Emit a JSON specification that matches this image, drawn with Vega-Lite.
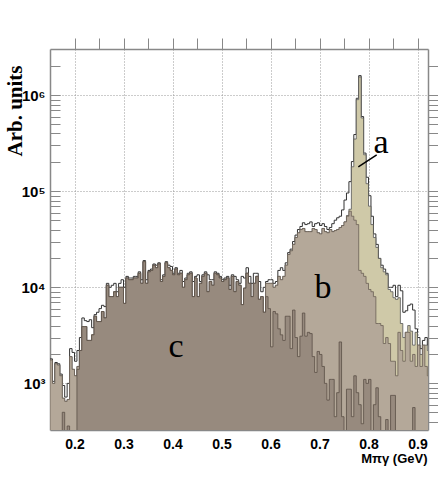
{
  "$schema": "https://vega.github.io/schema/vega-lite/v6.json",
  "width": 378,
  "height": 381,
  "autosize": {"type": "none"},
  "padding": {"left": 50, "top": 49, "right": 10, "bottom": 49},
  "background": "white",
  "config": {"view": {"stroke": null}},
  "datasets": {
    "hist": [
      {"x":0.150,"T":1800,"A":1750,"B":1750,"C":1},
      {"x":0.155,"T":1050,"A":1000,"B":1000,"C":1},
      {"x":0.160,"T":1650,"A":1600,"B":1600,"C":1},
      {"x":0.165,"T":1600,"A":1550,"B":1550,"C":1},
      {"x":0.170,"T":1250,"A":1200,"B":1200,"C":1},
      {"x":0.175,"T":950,"A":700,"B":700,"C":500},
      {"x":0.180,"T":720,"A":650,"B":650,"C":1},
      {"x":0.185,"T":1000,"A":680,"B":680,"C":360},
      {"x":0.190,"T":2300,"A":1900,"B":1900,"C":1},
      {"x":0.195,"T":2100,"A":1400,"B":1400,"C":1},
      {"x":0.200,"T":1700,"A":1200,"B":1200,"C":1},
      {"x":0.205,"T":2200,"A":1500,"B":1500,"C":1400},
      {"x":0.210,"T":3000,"A":2200,"B":2200,"C":2200},
      {"x":0.215,"T":4800,"A":3900,"B":3900,"C":3900},
      {"x":0.220,"T":4500,"A":3900,"B":3900,"C":3900},
      {"x":0.225,"T":4400,"A":2800,"B":2800,"C":2800},
      {"x":0.230,"T":4600,"A":2800,"B":2800,"C":2800},
      {"x":0.235,"T":3800,"A":3200,"B":3200,"C":3200},
      {"x":0.240,"T":5200,"A":5000,"B":5000,"C":5000},
      {"x":0.245,"T":5500,"A":4400,"B":4400,"C":4400},
      {"x":0.250,"T":6000,"A":4400,"B":4400,"C":4400},
      {"x":0.255,"T":6500,"A":5600,"B":5600,"C":5600},
      {"x":0.260,"T":6300,"A":4800,"B":4800,"C":4800},
      {"x":0.265,"T":11000,"A":10500,"B":10500,"C":10500},
      {"x":0.270,"T":10000,"A":8000,"B":8000,"C":8000},
      {"x":0.275,"T":10500,"A":8000,"B":8000,"C":8000},
      {"x":0.280,"T":11000,"A":9000,"B":9000,"C":9000},
      {"x":0.285,"T":9000,"A":8000,"B":8000,"C":8000},
      {"x":0.290,"T":11000,"A":10000,"B":10000,"C":10000},
      {"x":0.295,"T":12000,"A":10000,"B":10000,"C":10000},
      {"x":0.300,"T":10000,"A":6800,"B":6800,"C":6800},
      {"x":0.305,"T":13000,"A":12500,"B":12500,"C":12500},
      {"x":0.310,"T":12500,"A":12000,"B":12000,"C":12000},
      {"x":0.315,"T":12500,"A":12000,"B":12000,"C":12000},
      {"x":0.320,"T":13000,"A":12500,"B":12500,"C":12500},
      {"x":0.325,"T":13000,"A":12500,"B":12500,"C":12500},
      {"x":0.330,"T":14500,"A":14000,"B":14000,"C":14000},
      {"x":0.335,"T":12000,"A":11000,"B":11000,"C":11000},
      {"x":0.340,"T":19000,"A":18500,"B":18500,"C":18500},
      {"x":0.345,"T":12000,"A":11000,"B":11000,"C":11000},
      {"x":0.350,"T":15000,"A":14500,"B":14500,"C":14500},
      {"x":0.355,"T":15500,"A":15000,"B":15000,"C":15000},
      {"x":0.360,"T":17500,"A":17000,"B":17000,"C":17000},
      {"x":0.365,"T":17000,"A":16000,"B":16000,"C":16000},
      {"x":0.370,"T":18000,"A":17500,"B":17500,"C":17500},
      {"x":0.375,"T":12000,"A":11500,"B":11500,"C":11500},
      {"x":0.380,"T":13500,"A":13000,"B":13000,"C":13000},
      {"x":0.385,"T":18500,"A":18000,"B":18000,"C":18000},
      {"x":0.390,"T":17000,"A":16000,"B":16000,"C":16000},
      {"x":0.395,"T":16500,"A":15000,"B":15000,"C":15000},
      {"x":0.400,"T":14000,"A":13500,"B":13500,"C":13500},
      {"x":0.405,"T":16000,"A":15500,"B":15500,"C":15500},
      {"x":0.410,"T":14000,"A":13500,"B":13500,"C":13500},
      {"x":0.415,"T":15000,"A":14000,"B":14000,"C":14000},
      {"x":0.420,"T":11500,"A":10000,"B":10000,"C":10000},
      {"x":0.425,"T":12500,"A":12000,"B":12000,"C":12000},
      {"x":0.430,"T":14000,"A":13500,"B":13500,"C":13500},
      {"x":0.435,"T":14500,"A":14000,"B":14000,"C":14000},
      {"x":0.440,"T":11500,"A":8000,"B":8000,"C":8000},
      {"x":0.445,"T":13000,"A":12500,"B":12500,"C":12500},
      {"x":0.450,"T":13500,"A":8000,"B":8000,"C":8000},
      {"x":0.455,"T":11500,"A":11000,"B":11000,"C":11000},
      {"x":0.460,"T":13500,"A":13000,"B":13000,"C":13000},
      {"x":0.465,"T":14500,"A":14000,"B":14000,"C":14000},
      {"x":0.470,"T":13500,"A":9000,"B":9000,"C":9000},
      {"x":0.475,"T":12000,"A":11500,"B":11500,"C":11500},
      {"x":0.480,"T":12000,"A":10500,"B":10500,"C":10500},
      {"x":0.485,"T":14500,"A":14000,"B":14000,"C":14000},
      {"x":0.490,"T":14000,"A":13500,"B":13500,"C":13500},
      {"x":0.495,"T":13000,"A":12500,"B":12500,"C":12500},
      {"x":0.500,"T":12000,"A":11500,"B":11500,"C":11500},
      {"x":0.505,"T":12500,"A":12000,"B":12000,"C":12000},
      {"x":0.510,"T":13000,"A":12500,"B":12500,"C":12500},
      {"x":0.515,"T":10500,"A":9500,"B":9500,"C":9500},
      {"x":0.520,"T":13500,"A":13000,"B":13000,"C":13000},
      {"x":0.525,"T":13000,"A":9000,"B":9000,"C":9000},
      {"x":0.530,"T":12000,"A":11500,"B":11500,"C":11500},
      {"x":0.535,"T":11000,"A":10500,"B":10500,"C":10500},
      {"x":0.540,"T":13000,"A":6600,"B":6600,"C":6600},
      {"x":0.545,"T":12500,"A":9800,"B":9800,"C":9800},
      {"x":0.550,"T":16000,"A":14000,"B":14000,"C":14000},
      {"x":0.555,"T":13000,"A":11000,"B":11000,"C":11000},
      {"x":0.560,"T":11000,"A":8000,"B":8000,"C":8000},
      {"x":0.565,"T":14000,"A":11000,"B":11000,"C":11000},
      {"x":0.570,"T":14000,"A":13000,"B":13000,"C":13000},
      {"x":0.575,"T":11500,"A":7500,"B":7500,"C":7500},
      {"x":0.580,"T":9000,"A":8000,"B":8000,"C":8000},
      {"x":0.585,"T":10000,"A":5500,"B":5500,"C":5500},
      {"x":0.590,"T":11500,"A":11000,"B":11000,"C":8000},
      {"x":0.595,"T":12000,"A":11000,"B":11000,"C":6000},
      {"x":0.600,"T":12000,"A":11000,"B":11000,"C":2400},
      {"x":0.605,"T":11000,"A":10000,"B":10000,"C":5600},
      {"x":0.610,"T":11500,"A":10500,"B":10500,"C":5300},
      {"x":0.615,"T":15000,"A":13000,"B":13000,"C":3700},
      {"x":0.620,"T":16000,"A":12000,"B":12000,"C":3200},
      {"x":0.625,"T":15000,"A":13000,"B":13000,"C":2800},
      {"x":0.630,"T":18000,"A":17000,"B":17000,"C":5000},
      {"x":0.635,"T":23000,"A":22000,"B":22000,"C":5000},
      {"x":0.640,"T":25000,"A":24000,"B":24000,"C":2300},
      {"x":0.645,"T":30000,"A":28000,"B":28000,"C":5800},
      {"x":0.650,"T":35000,"A":33000,"B":33000,"C":3000},
      {"x":0.655,"T":40000,"A":37000,"B":37000,"C":1900},
      {"x":0.660,"T":43000,"A":40000,"B":40000,"C":3100},
      {"x":0.665,"T":47000,"A":41000,"B":41000,"C":5400},
      {"x":0.670,"T":45000,"A":38000,"B":38000,"C":3100},
      {"x":0.675,"T":46000,"A":38000,"B":38000,"C":3400},
      {"x":0.680,"T":48000,"A":38000,"B":38000,"C":3300},
      {"x":0.685,"T":43000,"A":41000,"B":41000,"C":1900},
      {"x":0.690,"T":46000,"A":40000,"B":40000,"C":1300},
      {"x":0.695,"T":47000,"A":37000,"B":37000,"C":2150},
      {"x":0.700,"T":44000,"A":36000,"B":36000,"C":2000},
      {"x":0.705,"T":46000,"A":41000,"B":41000,"C":1500},
      {"x":0.710,"T":43000,"A":38000,"B":38000,"C":1000},
      {"x":0.715,"T":40000,"A":37000,"B":37000,"C":670},
      {"x":0.720,"T":42000,"A":40000,"B":40000,"C":1100},
      {"x":0.725,"T":46000,"A":38000,"B":38000,"C":1100},
      {"x":0.730,"T":50000,"A":39000,"B":39000,"C":450},
      {"x":0.735,"T":53000,"A":40000,"B":40000,"C":800},
      {"x":0.740,"T":55000,"A":42000,"B":42000,"C":2700},
      {"x":0.745,"T":64000,"A":44000,"B":44000,"C":450},
      {"x":0.750,"T":81000,"A":48000,"B":48000,"C":1},
      {"x":0.755,"T":96000,"A":56000,"B":55000,"C":870},
      {"x":0.760,"T":126000,"A":65000,"B":62000,"C":870},
      {"x":0.765,"T":204000,"A":180000,"B":55000,"C":450},
      {"x":0.770,"T":390000,"A":350000,"B":50000,"C":1200},
      {"x":0.775,"T":930000,"A":900000,"B":45000,"C":800},
      {"x":0.780,"T":1600000,"A":1550000,"B":15000,"C":600},
      {"x":0.785,"T":600000,"A":580000,"B":14000,"C":380},
      {"x":0.790,"T":250000,"A":240000,"B":13000,"C":1100},
      {"x":0.795,"T":140000,"A":120000,"B":11000,"C":1000},
      {"x":0.800,"T":90000,"A":70000,"B":9500,"C":1100},
      {"x":0.805,"T":55000,"A":45000,"B":9000,"C":300},
      {"x":0.810,"T":36000,"A":33000,"B":8000,"C":600},
      {"x":0.815,"T":28000,"A":26000,"B":4200,"C":900},
      {"x":0.820,"T":20000,"A":20000,"B":4200,"C":450},
      {"x":0.825,"T":17000,"A":16000,"B":4000,"C":1},
      {"x":0.830,"T":15500,"A":14500,"B":2600,"C":1},
      {"x":0.835,"T":14000,"A":13500,"B":3000,"C":420},
      {"x":0.840,"T":10000,"A":9500,"B":2600,"C":1},
      {"x":0.845,"T":10000,"A":9000,"B":1700,"C":750},
      {"x":0.850,"T":10500,"A":7800,"B":1700,"C":750},
      {"x":0.855,"T":8000,"A":7500,"B":1200,"C":1},
      {"x":0.860,"T":10500,"A":7800,"B":3400,"C":1},
      {"x":0.865,"T":9200,"A":4200,"B":2200,"C":1},
      {"x":0.870,"T":5500,"A":3000,"B":1700,"C":1},
      {"x":0.875,"T":5700,"A":3400,"B":3400,"C":1},
      {"x":0.880,"T":6500,"A":4000,"B":3400,"C":1},
      {"x":0.885,"T":6700,"A":3500,"B":1700,"C":1},
      {"x":0.890,"T":5800,"A":2500,"B":2000,"C":560},
      {"x":0.895,"T":3700,"A":3400,"B":1500,"C":1},
      {"x":0.900,"T":3000,"A":2500,"B":2500,"C":1},
      {"x":0.905,"T":2300,"A":2000,"B":1500,"C":1},
      {"x":0.910,"T":2800,"A":2500,"B":2500,"C":1},
      {"x":0.915,"T":3000,"A":2500,"B":1500,"C":1},
      {"x":0.920,"T":2500,"A":2200,"B":1200,"C":1},
      {"x":0.925,"T":2500,"A":2200,"B":1200,"C":1}
    ],
    "labels": [
      {"x":0.8255,"y":250000,"t":"a"},
      {"x":0.707,"y":7700,"t":"b"},
      {"x":0.407,"y":1900,"t":"c"}
    ],
    "pointer": [
      {"x":0.8167,"y":239000,"x2":0.7792,"y2":180000}
    ]
  },
  "layer": [
    {
      "data": {"name": "hist"},
      "mark": {"type": "area", "interpolate": "step-after", "fill": "white", "stroke": "#333333", "strokeWidth": 1, "clip": true},
      "encoding": {
        "x": {
          "field": "x", "type": "quantitative",
          "scale": {"domain": [0.15, 0.9214], "nice": false, "zero": false},
          "axis": {
            "orient": "bottom",
            "values": [0.2,0.25,0.3,0.35,0.4,0.45,0.5,0.55,0.6,0.65,0.7,0.75,0.8,0.85,0.9],
            "labelExpr": "abs(datum.value*10-round(datum.value*10))<0.001 ? format(datum.value,'.1f') : ''",
            "labelFont": "Liberation Sans", "labelFontWeight": "bold", "labelFontSize": 14, "labelColor": "black",
            "labelFlush": false, "labelOverlap": false,
            "tickSize": -11, "labelPadding": 18, "tickColor": "#888888", "tickWidth": 1,
            "domainColor": "#888888", "domainWidth": 1.5,
            "grid": true, "gridDash": [1, 2], "gridColor": "#999999",
            "gridOpacity": {"condition": {"test": "abs(datum.value*10-round(datum.value*10))>0.001", "value": 0}, "value": 1},
            "encode": {"ticks": {"update": {"y2": {"signal": "abs(datum.value*10-round(datum.value*10))<0.001 ? -11 : -6"}}}},
            "title": "Mπγ (GeV)",
            "titleFont": "Liberation Sans", "titleFontWeight": "bold", "titleFontSize": 13, "titleColor": "black",
            "titleAnchor": "end", "titleAlign": "right", "titleBaseline": "alphabetic",
            "titleX": 377, "titleY": 32
          }
        },
        "y": {
          "field": "T", "type": "quantitative",
          "scale": {"type": "log", "domain": [327, 3030000], "nice": false},
          "axis": {
            "orient": "left",
            "values": [400,500,600,700,800,900,1000,2000,3000,4000,5000,6000,7000,8000,9000,10000,20000,30000,40000,50000,60000,70000,80000,90000,100000,200000,300000,400000,500000,600000,700000,800000,900000,1000000,2000000],
            "labelExpr": "datum.value==1000?'10³':datum.value==10000?'10⁴':datum.value==100000?'10⁵':datum.value==1000000?'10⁶':''",
            "labelFont": "Liberation Sans", "labelFontWeight": "bold", "labelFontSize": 15, "labelColor": "black",
            "labelFlush": false, "labelOverlap": false,
            "tickSize": -10, "labelPadding": 15, "tickColor": "#888888", "tickWidth": 1,
            "domainColor": "#888888", "domainWidth": 1.5,
            "grid": true, "gridDash": [1, 2], "gridColor": "#999999",
            "gridOpacity": {"condition": {"test": "abs(log(datum.value)/LN10-round(log(datum.value)/LN10))>0.001", "value": 0}, "value": 1},
            "encode": {"ticks": {"update": {"x2": {"signal": "abs(log(datum.value)/LN10-round(log(datum.value)/LN10))<0.001 ? 10 : 5"}}}},
            "title": "Arb. units",
            "titleFont": "Liberation Serif", "titleFontWeight": "bold", "titleFontSize": 21, "titleColor": "black",
            "titleAngle": 270, "titleAlign": "right", "titleBaseline": "middle",
            "titleX": -35, "titleY": 16
          }
        },
        "y2": {"datum": 1}
      }
    },
    {
      "data": {"name": "hist"},
      "mark": {"type": "area", "interpolate": "step-after", "fill": "#cfc9a8", "stroke": "#555555", "strokeWidth": 0.8, "clip": true},
      "encoding": {
        "x": {
          "field": "x", "type": "quantitative",
          "axis": {
            "orient": "top",
            "values": [0.2,0.25,0.3,0.35,0.4,0.45,0.5,0.55,0.6,0.65,0.7,0.75,0.8,0.85,0.9],
            "labels": false, "grid": false, "title": null,
            "tickSize": 11, "tickColor": "#888888", "tickWidth": 1,
            "domainColor": "#888888", "domainWidth": 1.5,
            "encode": {"ticks": {"update": {"y2": {"signal": "abs(datum.value*10-round(datum.value*10))<0.001 ? 11 : 6"}}}}
          }
        },
        "y": {
          "field": "A", "type": "quantitative",
          "axis": {
            "orient": "right",
            "values": [400,500,600,700,800,900,1000,2000,3000,4000,5000,6000,7000,8000,9000,10000,20000,30000,40000,50000,60000,70000,80000,90000,100000,200000,300000,400000,500000,600000,700000,800000,900000,1000000,2000000],
            "labels": false, "grid": false, "title": null,
            "tickSize": 10, "tickColor": "#888888", "tickWidth": 1,
            "domainColor": "#888888", "domainWidth": 1.5,
            "encode": {"ticks": {"update": {"x2": {"signal": "abs(log(datum.value)/LN10-round(log(datum.value)/LN10))<0.001 ? -10 : -5"}}}}
          }
        },
        "y2": {"datum": 1}
      }
    },
    {
      "data": {"name": "hist"},
      "mark": {"type": "area", "interpolate": "step-after", "fill": "#b4a899", "stroke": "#6b6055", "strokeWidth": 0.8, "clip": true},
      "encoding": {
        "x": {"field": "x", "type": "quantitative", "axis": null},
        "y": {"field": "B", "type": "quantitative", "axis": null},
        "y2": {"datum": 1}
      }
    },
    {
      "data": {"name": "hist"},
      "mark": {"type": "area", "interpolate": "step-after", "fill": "#978a7e", "stroke": "#5a4f46", "strokeWidth": 0.8, "clip": true},
      "encoding": {
        "x": {"field": "x", "type": "quantitative", "axis": null},
        "y": {"field": "C", "type": "quantitative", "axis": null},
        "y2": {"datum": 1}
      }
    },
    {
      "data": {"name": "labels"},
      "mark": {"type": "text", "font": "Liberation Serif", "fontSize": 34, "align": "center", "baseline": "alphabetic", "color": "black"},
      "encoding": {
        "x": {"field": "x", "type": "quantitative", "axis": null},
        "y": {"field": "y", "type": "quantitative", "axis": null},
        "text": {"field": "t"}
      }
    },
    {
      "data": {"name": "pointer"},
      "mark": {"type": "rule", "color": "black", "strokeWidth": 1.5},
      "encoding": {
        "x": {"field": "x", "type": "quantitative", "axis": null},
        "y": {"field": "y", "type": "quantitative", "axis": null},
        "x2": {"field": "x2"},
        "y2": {"field": "y2"}
      }
    }
  ]
}
